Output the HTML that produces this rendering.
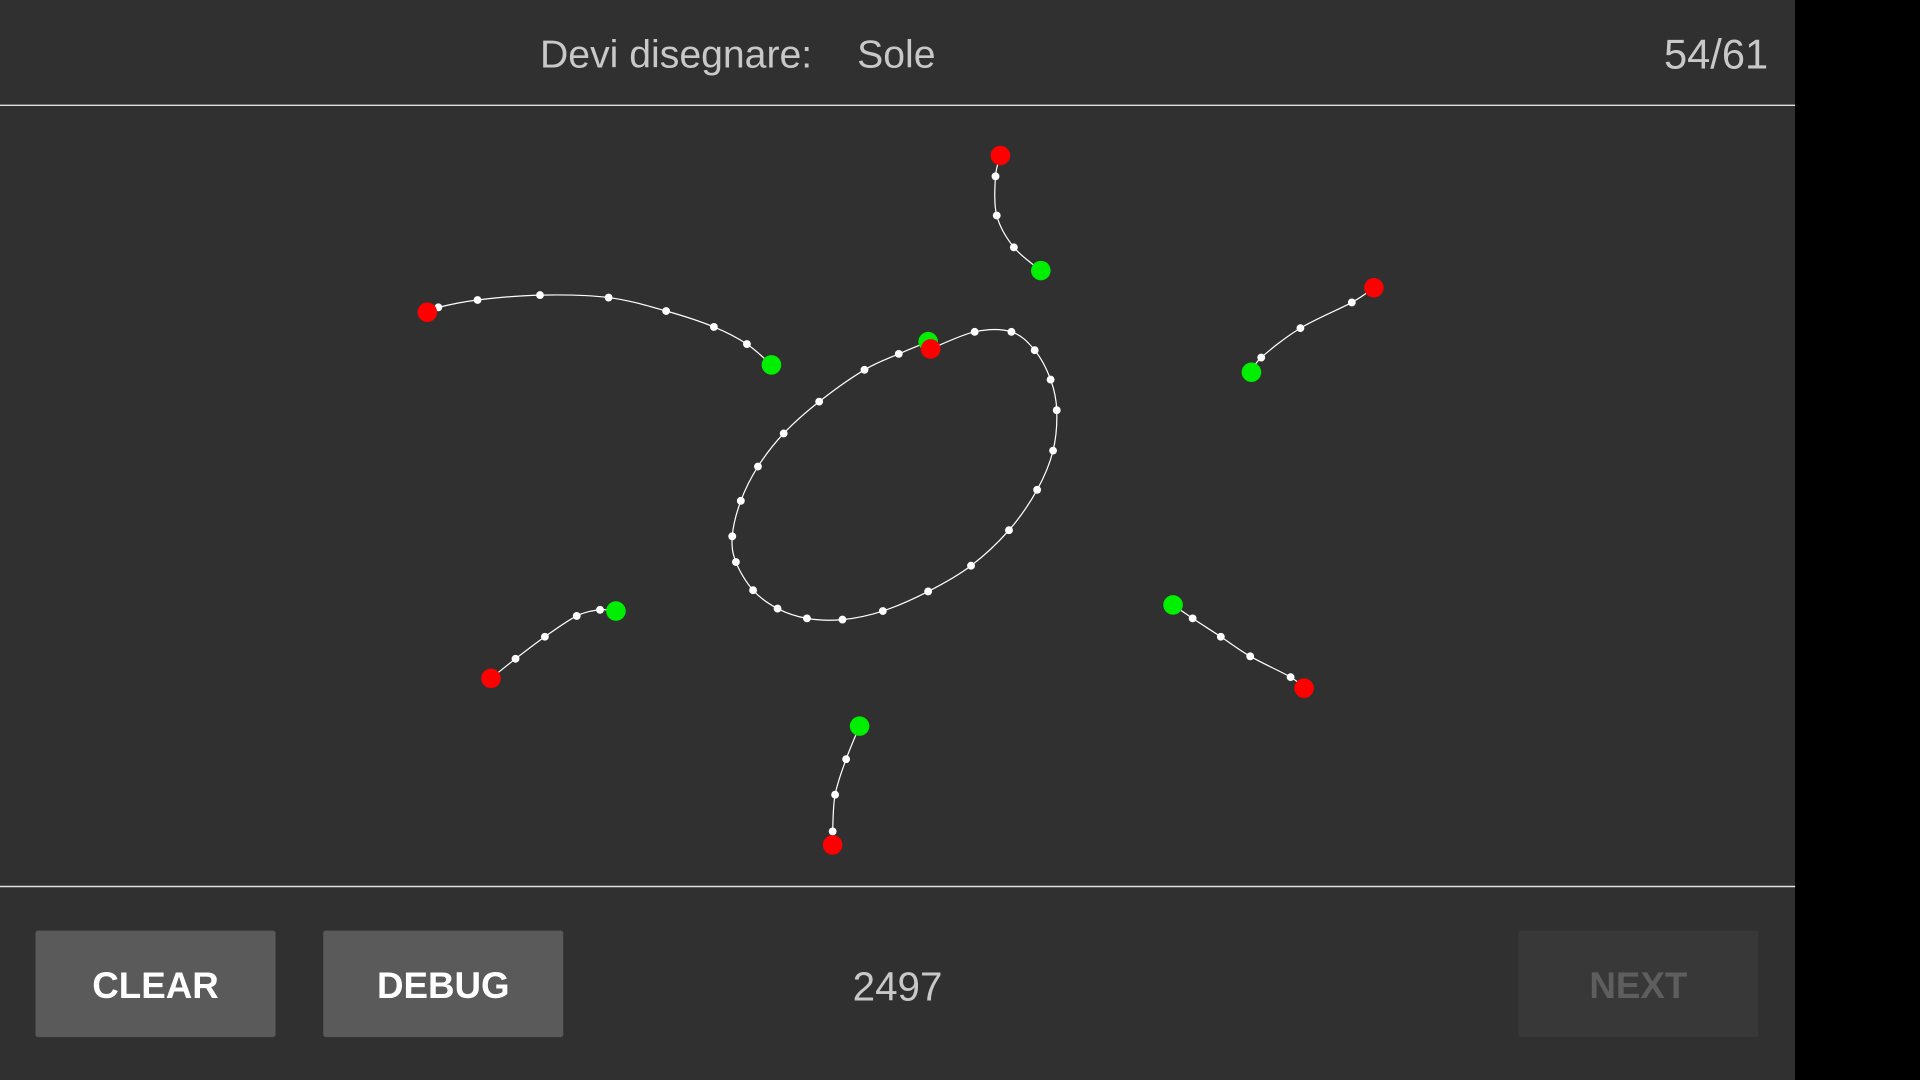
<!DOCTYPE html>
<html><head><meta charset="utf-8"><style>
html,body{margin:0;padding:0;background:#000;width:1920px;height:1080px;overflow:hidden}
svg{display:block}
text{font-family:"Liberation Sans",sans-serif}
</style></head><body>
<svg id="c" width="1920" height="1080" viewBox="0 0 1568 882">
<rect x="0" y="0" width="1466" height="882" fill="#303030"/>
<rect x="1466" y="0" width="102" height="882" fill="#000"/>
<text x="441" y="55" font-size="32" fill="#c8c8c8">Devi disegnare:</text>
<text x="700" y="55" font-size="32" fill="#c8c8c8">Sole</text>
<text x="1444" y="56" font-size="34" fill="#c8c8c8" text-anchor="end">54/61</text>
<line x1="0" y1="86" x2="1466" y2="86" stroke="#e0e0e0" stroke-width="1.2"/>
<line x1="0" y1="724" x2="1466" y2="724" stroke="#e0e0e0" stroke-width="1.2"/>
<rect x="0" y="87" width="1466" height="636" fill="transparent"/>
<g id="strokes"></g>
<g><rect x="29" y="760" width="196" height="87" rx="2" fill="#5a5a5b"/><text x="127" y="815" font-size="30" font-weight="bold" fill="#fff" text-anchor="middle">CLEAR</text></g>
<g><rect x="264" y="760" width="196" height="87" rx="2" fill="#5a5a5b"/><text x="362" y="815" font-size="30" font-weight="bold" fill="#fff" text-anchor="middle">DEBUG</text></g>
<text x="733" y="817" font-size="33" fill="#c8c8c8" text-anchor="middle">2497</text>
<g><rect x="1240" y="760" width="196" height="87" rx="2" fill="#383838"/><text x="1338" y="815" font-size="30" font-weight="bold" fill="#5e5e5e" text-anchor="middle">NEXT</text></g>
</svg>
<script>
const strokeNames = ['ray-top','ray-left-upper','sun-circle','ray-right-upper','ray-left-lower','ray-right-lower','ray-bottom'];
const strokeStartColors = ['red','red','green','red','red','green','green'];
const strokeX = [
 [817,813,814,828,850],
 [349,358,390,441,497,544,583,610,630],
 [758,734,706,669,640,619,605,598,601,615,635,659,688,721,758,793,824,847,860,863,858,845,826,796,760],
 [1122,1104,1062,1030,1022],
 [401,421,445,471,490,503],
 [958,974,997,1021,1054,1065],
 [702,691,682,680,680]
];
const strokeY = [
 [127,144,176,202,221],
 [255,251,245,241,243,254,267,281,298],
 [279,289,302,328,354,381,409,438,459,482,497,505,506,499,483,462,433,400,368,335,310,286,271,271,285],
 [235,247,268,292,304],
 [554,538,520,503,498,499],
 [494,505,520,536,553,562],
 [593,620,649,679,690]
];
const NS='http://www.w3.org/2000/svg';
const g=document.getElementById('strokes');
const col={red:'#ff0000',green:'#00ee00'};
strokeX.forEach((xs,i)=>{
  const ys=strokeY[i];
  let d='M'+xs[0]+' '+ys[0];
  for(let k=0;k<xs.length-1;k++){
    const p0=[xs[Math.max(k-1,0)],ys[Math.max(k-1,0)]],p1=[xs[k],ys[k]],p2=[xs[k+1],ys[k+1]],p3=[xs[Math.min(k+2,xs.length-1)],ys[Math.min(k+2,xs.length-1)]];
    d+=' C'+(p1[0]+(p2[0]-p0[0])/6)+' '+(p1[1]+(p2[1]-p0[1])/6)+' '+(p2[0]-(p3[0]-p1[0])/6)+' '+(p2[1]-(p3[1]-p1[1])/6)+' '+p2[0]+' '+p2[1];
  }
  const path=document.createElementNS(NS,'path');
  path.setAttribute('d',d);path.setAttribute('fill','none');path.setAttribute('stroke','#fff');path.setAttribute('stroke-width','1');
  
  
  g.appendChild(path);
  for(let k=1;k<xs.length-1;k++){
    const c=document.createElementNS(NS,'circle');
    c.setAttribute('cx',xs[k]);c.setAttribute('cy',ys[k]);c.setAttribute('r',3.2);c.setAttribute('fill','#fff');
    
    
    g.appendChild(c);
  }
  const sc=strokeStartColors[i], ec=sc==='red'?'green':'red';
  [[0,sc],[xs.length-1,ec]].forEach(([k,cl])=>{
    const c=document.createElementNS(NS,'circle');
    c.setAttribute('cx',xs[k]);c.setAttribute('cy',ys[k]);c.setAttribute('r',8);c.setAttribute('fill',col[cl]);
    
    
    g.appendChild(c);
  });
});
</script>
</body></html>
